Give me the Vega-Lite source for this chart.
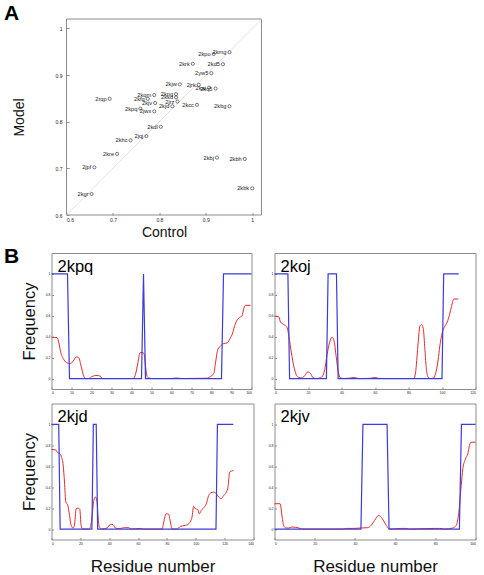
{
  "$schema": "https://vega.github.io/schema/vega-lite/v6.json",
  "padding": {"left": 3.5, "top": 2, "right": 0, "bottom": 0},
  "background": "white",
  "config": {
    "font": "Liberation Sans",
    "view": {"stroke": "#8c8c8c", "strokeWidth": 1},
    "axis": {"grid": false, "domain": false, "tickColor": "#8c8c8c", "labelColor": "#222", "titleColor": "#111", "titleFontWeight": "normal", "titleFont": "Liberation Sans", "labelFont": "Liberation Sans"},
    "title": {"font": "Liberation Sans", "color": "#000"}
  },
  "datasets": {
    "scatter": [
      {"id": "2kmg", "control": 0.951, "model": 0.949},
      {"id": "2kpo", "control": 0.917, "model": 0.945},
      {"id": "2krk", "control": 0.872, "model": 0.924},
      {"id": "2kd5", "control": 0.937, "model": 0.923},
      {"id": "2yw5", "control": 0.912, "model": 0.904},
      {"id": "2kjw", "control": 0.844, "model": 0.88},
      {"id": "2jrk", "control": 0.885, "model": 0.879},
      {"id": "2kai", "control": 0.907, "model": 0.873},
      {"id": "2kq5", "control": 0.921, "model": 0.871},
      {"id": "2rqp", "control": 0.693, "model": 0.849},
      {"id": "2kqm", "control": 0.789, "model": 0.857},
      {"id": "2kfq", "control": 0.775, "model": 0.849},
      {"id": "2kjv", "control": 0.791, "model": 0.84},
      {"id": "2kpq", "control": 0.759, "model": 0.828},
      {"id": "2jwx", "control": 0.789, "model": 0.822},
      {"id": "2kpg", "control": 0.836, "model": 0.859},
      {"id": "2ksd", "control": 0.836, "model": 0.852},
      {"id": "2jrz", "control": 0.839, "model": 0.843},
      {"id": "2kjd", "control": 0.828, "model": 0.833},
      {"id": "2kcc", "control": 0.881, "model": 0.836},
      {"id": "2kbg", "control": 0.951, "model": 0.833},
      {"id": "2kdl", "control": 0.803, "model": 0.789},
      {"id": "2jqj", "control": 0.772, "model": 0.769},
      {"id": "2khc", "control": 0.738, "model": 0.76},
      {"id": "2kre", "control": 0.709, "model": 0.731},
      {"id": "2jpf", "control": 0.66, "model": 0.702},
      {"id": "2kgr", "control": 0.654, "model": 0.645},
      {"id": "2kbj", "control": 0.924, "model": 0.723},
      {"id": "2kbh", "control": 0.984, "model": 0.72},
      {"id": "2kbk", "control": 1.0, "model": 0.657}
    ],
    "diag": [
      {"control": 0.6, "model": 0.6},
      {"control": 1.02, "model": 1.02}
    ],
    "profiles": [
      {"protein": "2kpq", "series": "native", "residue": 0, "freq": 1},
      {"protein": "2kpq", "series": "native", "residue": 8, "freq": 1},
      {"protein": "2kpq", "series": "native", "residue": 9, "freq": 0},
      {"protein": "2kpq", "series": "native", "residue": 45, "freq": 0},
      {"protein": "2kpq", "series": "native", "residue": 46, "freq": 1},
      {"protein": "2kpq", "series": "native", "residue": 47, "freq": 0},
      {"protein": "2kpq", "series": "native", "residue": 85, "freq": 0},
      {"protein": "2kpq", "series": "native", "residue": 86, "freq": 1},
      {"protein": "2kpq", "series": "native", "residue": 100, "freq": 1},

      {"protein": "2kpq", "series": "model", "residue": 0, "freq": 0.395},
      {"protein": "2kpq", "series": "model", "residue": 2.8, "freq": 0.39},
      {"protein": "2kpq", "series": "model", "residue": 3.7, "freq": 0.34},
      {"protein": "2kpq", "series": "model", "residue": 4.5, "freq": 0.26},
      {"protein": "2kpq", "series": "model", "residue": 6.2, "freq": 0.18},
      {"protein": "2kpq", "series": "model", "residue": 7.8, "freq": 0.15},
      {"protein": "2kpq", "series": "model", "residue": 9.5, "freq": 0.143},
      {"protein": "2kpq", "series": "model", "residue": 10.8, "freq": 0.166},
      {"protein": "2kpq", "series": "model", "residue": 12.5, "freq": 0.207},
      {"protein": "2kpq", "series": "model", "residue": 13.7, "freq": 0.197},
      {"protein": "2kpq", "series": "model", "residue": 14.8, "freq": 0.118},
      {"protein": "2kpq", "series": "model", "residue": 16.2, "freq": 0.02},
      {"protein": "2kpq", "series": "model", "residue": 17, "freq": 0},
      {"protein": "2kpq", "series": "model", "residue": 18.7, "freq": 0},
      {"protein": "2kpq", "series": "model", "residue": 20.3, "freq": 0.02},
      {"protein": "2kpq", "series": "model", "residue": 22.8, "freq": 0.03},
      {"protein": "2kpq", "series": "model", "residue": 24.5, "freq": 0.02},
      {"protein": "2kpq", "series": "model", "residue": 25.3, "freq": 0},
      {"protein": "2kpq", "series": "model", "residue": 41, "freq": 0},
      {"protein": "2kpq", "series": "model", "residue": 42, "freq": 0.04},
      {"protein": "2kpq", "series": "model", "residue": 43.2, "freq": 0.15},
      {"protein": "2kpq", "series": "model", "residue": 44.2, "freq": 0.245},
      {"protein": "2kpq", "series": "model", "residue": 45.3, "freq": 0.25},
      {"protein": "2kpq", "series": "model", "residue": 46.2, "freq": 0.24},
      {"protein": "2kpq", "series": "model", "residue": 47.2, "freq": 0.09},
      {"protein": "2kpq", "series": "model", "residue": 47.8, "freq": 0.02},
      {"protein": "2kpq", "series": "model", "residue": 48.7, "freq": 0.005},
      {"protein": "2kpq", "series": "model", "residue": 50.3, "freq": 0},
      {"protein": "2kpq", "series": "model", "residue": 60, "freq": 0},
      {"protein": "2kpq", "series": "model", "residue": 62.5, "freq": 0.005},
      {"protein": "2kpq", "series": "model", "residue": 65, "freq": 0},
      {"protein": "2kpq", "series": "model", "residue": 77.8, "freq": 0.003},
      {"protein": "2kpq", "series": "model", "residue": 79.5, "freq": 0.02},
      {"protein": "2kpq", "series": "model", "residue": 81.2, "freq": 0.05},
      {"protein": "2kpq", "series": "model", "residue": 82, "freq": 0.15},
      {"protein": "2kpq", "series": "model", "residue": 83.2, "freq": 0.28},
      {"protein": "2kpq", "series": "model", "residue": 84.5, "freq": 0.31},
      {"protein": "2kpq", "series": "model", "residue": 86.2, "freq": 0.335},
      {"protein": "2kpq", "series": "model", "residue": 87.8, "freq": 0.34},
      {"protein": "2kpq", "series": "model", "residue": 89.5, "freq": 0.39},
      {"protein": "2kpq", "series": "model", "residue": 90.3, "freq": 0.42},
      {"protein": "2kpq", "series": "model", "residue": 91.2, "freq": 0.48},
      {"protein": "2kpq", "series": "model", "residue": 92.5, "freq": 0.55},
      {"protein": "2kpq", "series": "model", "residue": 94.2, "freq": 0.585},
      {"protein": "2kpq", "series": "model", "residue": 95.3, "freq": 0.6},
      {"protein": "2kpq", "series": "model", "residue": 96.2, "freq": 0.675},
      {"protein": "2kpq", "series": "model", "residue": 97, "freq": 0.7},
      {"protein": "2kpq", "series": "model", "residue": 99.5, "freq": 0.7},

      {"protein": "2koj", "series": "native", "residue": 0, "freq": 1},
      {"protein": "2koj", "series": "native", "residue": 8, "freq": 1},
      {"protein": "2koj", "series": "native", "residue": 9, "freq": 0},
      {"protein": "2koj", "series": "native", "residue": 31, "freq": 0},
      {"protein": "2koj", "series": "native", "residue": 32, "freq": 1},
      {"protein": "2koj", "series": "native", "residue": 37, "freq": 1},
      {"protein": "2koj", "series": "native", "residue": 38, "freq": 0},
      {"protein": "2koj", "series": "native", "residue": 100, "freq": 0},
      {"protein": "2koj", "series": "native", "residue": 101, "freq": 1},
      {"protein": "2koj", "series": "native", "residue": 110, "freq": 1},

      {"protein": "2koj", "series": "model", "residue": 0, "freq": 0.596},
      {"protein": "2koj", "series": "model", "residue": 2.6, "freq": 0.59},
      {"protein": "2koj", "series": "model", "residue": 3.6, "freq": 0.54},
      {"protein": "2koj", "series": "model", "residue": 5.6, "freq": 0.516},
      {"protein": "2koj", "series": "model", "residue": 7.6, "freq": 0.484},
      {"protein": "2koj", "series": "model", "residue": 8.6, "freq": 0.4},
      {"protein": "2koj", "series": "model", "residue": 10.1, "freq": 0.245},
      {"protein": "2koj", "series": "model", "residue": 11.5, "freq": 0.118},
      {"protein": "2koj", "series": "model", "residue": 12.9, "freq": 0.04},
      {"protein": "2koj", "series": "model", "residue": 14.5, "freq": 0.01},
      {"protein": "2koj", "series": "model", "residue": 16.5, "freq": 0.006},
      {"protein": "2koj", "series": "model", "residue": 18.1, "freq": 0.03},
      {"protein": "2koj", "series": "model", "residue": 19.9, "freq": 0.064},
      {"protein": "2koj", "series": "model", "residue": 21.5, "freq": 0.048},
      {"protein": "2koj", "series": "model", "residue": 22.9, "freq": 0.01},
      {"protein": "2koj", "series": "model", "residue": 24.5, "freq": 0},
      {"protein": "2koj", "series": "model", "residue": 27, "freq": 0.005},
      {"protein": "2koj", "series": "model", "residue": 28.5, "freq": 0.02},
      {"protein": "2koj", "series": "model", "residue": 30, "freq": 0.086},
      {"protein": "2koj", "series": "model", "residue": 31.4, "freq": 0.23},
      {"protein": "2koj", "series": "model", "residue": 32.8, "freq": 0.34},
      {"protein": "2koj", "series": "model", "residue": 34.4, "freq": 0.395},
      {"protein": "2koj", "series": "model", "residue": 35.6, "freq": 0.357},
      {"protein": "2koj", "series": "model", "residue": 36.8, "freq": 0.213},
      {"protein": "2koj", "series": "model", "residue": 38, "freq": 0.07},
      {"protein": "2koj", "series": "model", "residue": 39.4, "freq": 0.006},
      {"protein": "2koj", "series": "model", "residue": 41.4, "freq": 0},
      {"protein": "2koj", "series": "model", "residue": 44.5, "freq": 0.003},
      {"protein": "2koj", "series": "model", "residue": 47.4, "freq": 0.01},
      {"protein": "2koj", "series": "model", "residue": 50.3, "freq": 0},
      {"protein": "2koj", "series": "model", "residue": 57, "freq": 0.002},
      {"protein": "2koj", "series": "model", "residue": 60.3, "freq": 0.01},
      {"protein": "2koj", "series": "model", "residue": 62.3, "freq": 0},
      {"protein": "2koj", "series": "model", "residue": 83.2, "freq": 0},
      {"protein": "2koj", "series": "model", "residue": 84.2, "freq": 0.054},
      {"protein": "2koj", "series": "model", "residue": 85.6, "freq": 0.31},
      {"protein": "2koj", "series": "model", "residue": 86.8, "freq": 0.5},
      {"protein": "2koj", "series": "model", "residue": 87.8, "freq": 0.516},
      {"protein": "2koj", "series": "model", "residue": 88.8, "freq": 0.48},
      {"protein": "2koj", "series": "model", "residue": 89.8, "freq": 0.277},
      {"protein": "2koj", "series": "model", "residue": 90.7, "freq": 0.086},
      {"protein": "2koj", "series": "model", "residue": 91.7, "freq": 0.016},
      {"protein": "2koj", "series": "model", "residue": 93.1, "freq": 0},
      {"protein": "2koj", "series": "model", "residue": 95.1, "freq": 0.006},
      {"protein": "2koj", "series": "model", "residue": 96.5, "freq": 0.07},
      {"protein": "2koj", "series": "model", "residue": 97.7, "freq": 0.18},
      {"protein": "2koj", "series": "model", "residue": 98.7, "freq": 0.31},
      {"protein": "2koj", "series": "model", "residue": 100.1, "freq": 0.436},
      {"protein": "2koj", "series": "model", "residue": 101.7, "freq": 0.5},
      {"protein": "2koj", "series": "model", "residue": 103.1, "freq": 0.54},
      {"protein": "2koj", "series": "model", "residue": 104.5, "freq": 0.61},
      {"protein": "2koj", "series": "model", "residue": 105.7, "freq": 0.69},
      {"protein": "2koj", "series": "model", "residue": 107.1, "freq": 0.76},
      {"protein": "2koj", "series": "model", "residue": 109.7, "freq": 0.76},

      {"protein": "2kjd", "series": "native", "residue": 0, "freq": 1},
      {"protein": "2kjd", "series": "native", "residue": 5, "freq": 1},
      {"protein": "2kjd", "series": "native", "residue": 6, "freq": 0},
      {"protein": "2kjd", "series": "native", "residue": 28, "freq": 0},
      {"protein": "2kjd", "series": "native", "residue": 29, "freq": 1},
      {"protein": "2kjd", "series": "native", "residue": 31, "freq": 1},
      {"protein": "2kjd", "series": "native", "residue": 32, "freq": 0},
      {"protein": "2kjd", "series": "native", "residue": 114, "freq": 0},
      {"protein": "2kjd", "series": "native", "residue": 115, "freq": 1},
      {"protein": "2kjd", "series": "native", "residue": 126, "freq": 1},

      {"protein": "2kjd", "series": "model", "residue": 0, "freq": 0.76},
      {"protein": "2kjd", "series": "model", "residue": 2.8, "freq": 0.758},
      {"protein": "2kjd", "series": "model", "residue": 3.9, "freq": 0.735},
      {"protein": "2kjd", "series": "model", "residue": 5.8, "freq": 0.72},
      {"protein": "2kjd", "series": "model", "residue": 6.9, "freq": 0.69},
      {"protein": "2kjd", "series": "model", "residue": 8.1, "freq": 0.61},
      {"protein": "2kjd", "series": "model", "residue": 9, "freq": 0.45},
      {"protein": "2kjd", "series": "model", "residue": 9.9, "freq": 0.26},
      {"protein": "2kjd", "series": "model", "residue": 11.3, "freq": 0.226},
      {"protein": "2kjd", "series": "model", "residue": 12.5, "freq": 0.13},
      {"protein": "2kjd", "series": "model", "residue": 13.6, "freq": 0.035},
      {"protein": "2kjd", "series": "model", "residue": 15, "freq": 0.01},
      {"protein": "2kjd", "series": "model", "residue": 15.9, "freq": 0.035},
      {"protein": "2kjd", "series": "model", "residue": 17.1, "freq": 0.194},
      {"protein": "2kjd", "series": "model", "residue": 18.5, "freq": 0.2},
      {"protein": "2kjd", "series": "model", "residue": 19.6, "freq": 0.188},
      {"protein": "2kjd", "series": "model", "residue": 20.5, "freq": 0.035},
      {"protein": "2kjd", "series": "model", "residue": 21.7, "freq": 0},
      {"protein": "2kjd", "series": "model", "residue": 25.8, "freq": 0},
      {"protein": "2kjd", "series": "model", "residue": 27, "freq": 0.02},
      {"protein": "2kjd", "series": "model", "residue": 28.2, "freq": 0.13},
      {"protein": "2kjd", "series": "model", "residue": 29.3, "freq": 0.274},
      {"protein": "2kjd", "series": "model", "residue": 30.5, "freq": 0.306},
      {"protein": "2kjd", "series": "model", "residue": 31.6, "freq": 0.258},
      {"protein": "2kjd", "series": "model", "residue": 32.3, "freq": 0.115},
      {"protein": "2kjd", "series": "model", "residue": 33.2, "freq": 0.02},
      {"protein": "2kjd", "series": "model", "residue": 34.6, "freq": 0},
      {"protein": "2kjd", "series": "model", "residue": 38.5, "freq": 0.01},
      {"protein": "2kjd", "series": "model", "residue": 40.8, "freq": 0.045},
      {"protein": "2kjd", "series": "model", "residue": 42.7, "freq": 0.041},
      {"protein": "2kjd", "series": "model", "residue": 44.3, "freq": 0.01},
      {"protein": "2kjd", "series": "model", "residue": 46.6, "freq": 0.003},
      {"protein": "2kjd", "series": "model", "residue": 50.5, "freq": 0.013},
      {"protein": "2kjd", "series": "model", "residue": 53.5, "freq": 0.013},
      {"protein": "2kjd", "series": "model", "residue": 55.2, "freq": 0},
      {"protein": "2kjd", "series": "model", "residue": 61.6, "freq": 0.006},
      {"protein": "2kjd", "series": "model", "residue": 63.9, "freq": 0},
      {"protein": "2kjd", "series": "model", "residue": 76.6, "freq": 0},
      {"protein": "2kjd", "series": "model", "residue": 77.8, "freq": 0.067},
      {"protein": "2kjd", "series": "model", "residue": 79.4, "freq": 0.146},
      {"protein": "2kjd", "series": "model", "residue": 81.2, "freq": 0.14},
      {"protein": "2kjd", "series": "model", "residue": 82.4, "freq": 0.067},
      {"protein": "2kjd", "series": "model", "residue": 83.5, "freq": 0},
      {"protein": "2kjd", "series": "model", "residue": 87, "freq": 0},
      {"protein": "2kjd", "series": "model", "residue": 89.3, "freq": 0.025},
      {"protein": "2kjd", "series": "model", "residue": 92.8, "freq": 0.035},
      {"protein": "2kjd", "series": "model", "residue": 95.1, "freq": 0.05},
      {"protein": "2kjd", "series": "model", "residue": 97.4, "freq": 0.115},
      {"protein": "2kjd", "series": "model", "residue": 98.5, "freq": 0.217},
      {"protein": "2kjd", "series": "model", "residue": 99.7, "freq": 0.194},
      {"protein": "2kjd", "series": "model", "residue": 101.3, "freq": 0.188},
      {"protein": "2kjd", "series": "model", "residue": 102.5, "freq": 0.146},
      {"protein": "2kjd", "series": "model", "residue": 103.8, "freq": 0.178},
      {"protein": "2kjd", "series": "model", "residue": 105.9, "freq": 0.21},
      {"protein": "2kjd", "series": "model", "residue": 107.3, "freq": 0.242},
      {"protein": "2kjd", "series": "model", "residue": 108.9, "freq": 0.32},
      {"protein": "2kjd", "series": "model", "residue": 110.5, "freq": 0.347},
      {"protein": "2kjd", "series": "model", "residue": 112.4, "freq": 0.353},
      {"protein": "2kjd", "series": "model", "residue": 114.2, "freq": 0.338},
      {"protein": "2kjd", "series": "model", "residue": 115.9, "freq": 0.306},
      {"protein": "2kjd", "series": "model", "residue": 117.5, "freq": 0.29},
      {"protein": "2kjd", "series": "model", "residue": 119.3, "freq": 0.32},
      {"protein": "2kjd", "series": "model", "residue": 121.2, "freq": 0.353},
      {"protein": "2kjd", "series": "model", "residue": 122.3, "freq": 0.4},
      {"protein": "2kjd", "series": "model", "residue": 123.5, "freq": 0.545},
      {"protein": "2kjd", "series": "model", "residue": 126.2, "freq": 0.56},

      {"protein": "2kjv", "series": "native", "residue": 0, "freq": 0},
      {"protein": "2kjv", "series": "native", "residue": 43, "freq": 0},
      {"protein": "2kjv", "series": "native", "residue": 44, "freq": 1},
      {"protein": "2kjv", "series": "native", "residue": 56, "freq": 1},
      {"protein": "2kjv", "series": "native", "residue": 57, "freq": 0},
      {"protein": "2kjv", "series": "native", "residue": 92, "freq": 0},
      {"protein": "2kjv", "series": "native", "residue": 93, "freq": 1},
      {"protein": "2kjv", "series": "native", "residue": 100, "freq": 1},

      {"protein": "2kjv", "series": "model", "residue": 0, "freq": 0.242},
      {"protein": "2kjv", "series": "model", "residue": 2.8, "freq": 0.242},
      {"protein": "2kjv", "series": "model", "residue": 3.8, "freq": 0.115},
      {"protein": "2kjv", "series": "model", "residue": 4.6, "freq": 0.03},
      {"protein": "2kjv", "series": "model", "residue": 5.8, "freq": 0.01},
      {"protein": "2kjv", "series": "model", "residue": 7.1, "freq": 0.01},
      {"protein": "2kjv", "series": "model", "residue": 8.8, "freq": 0.02},
      {"protein": "2kjv", "series": "model", "residue": 10.4, "freq": 0.016},
      {"protein": "2kjv", "series": "model", "residue": 12.1, "freq": 0.01},
      {"protein": "2kjv", "series": "model", "residue": 13.3, "freq": 0},
      {"protein": "2kjv", "series": "model", "residue": 34, "freq": 0},
      {"protein": "2kjv", "series": "model", "residue": 35.7, "freq": 0.006},
      {"protein": "2kjv", "series": "model", "residue": 39, "freq": 0.006},
      {"protein": "2kjv", "series": "model", "residue": 43.1, "freq": 0.01},
      {"protein": "2kjv", "series": "model", "residue": 46.4, "freq": 0.013},
      {"protein": "2kjv", "series": "model", "residue": 48.1, "freq": 0.035},
      {"protein": "2kjv", "series": "model", "residue": 49.8, "freq": 0.083},
      {"protein": "2kjv", "series": "model", "residue": 51.9, "freq": 0.13},
      {"protein": "2kjv", "series": "model", "residue": 53.6, "freq": 0.1},
      {"protein": "2kjv", "series": "model", "residue": 55.6, "freq": 0.035},
      {"protein": "2kjv", "series": "model", "residue": 57.2, "freq": 0},
      {"protein": "2kjv", "series": "model", "residue": 63, "freq": 0.006},
      {"protein": "2kjv", "series": "model", "residue": 65.5, "freq": 0.006},
      {"protein": "2kjv", "series": "model", "residue": 67.2, "freq": 0},
      {"protein": "2kjv", "series": "model", "residue": 79.6, "freq": 0.006},
      {"protein": "2kjv", "series": "model", "residue": 82.1, "freq": 0.006},
      {"protein": "2kjv", "series": "model", "residue": 84.6, "freq": 0},
      {"protein": "2kjv", "series": "model", "residue": 88.7, "freq": 0.01},
      {"protein": "2kjv", "series": "model", "residue": 90.4, "freq": 0.035},
      {"protein": "2kjv", "series": "model", "residue": 91.7, "freq": 0.16},
      {"protein": "2kjv", "series": "model", "residue": 92.9, "freq": 0.417},
      {"protein": "2kjv", "series": "model", "residue": 93.7, "freq": 0.576},
      {"protein": "2kjv", "series": "model", "residue": 95, "freq": 0.67},
      {"protein": "2kjv", "series": "model", "residue": 96.2, "freq": 0.72},
      {"protein": "2kjv", "series": "model", "residue": 97, "freq": 0.8},
      {"protein": "2kjv", "series": "model", "residue": 97.8, "freq": 0.83},
      {"protein": "2kjv", "series": "model", "residue": 100, "freq": 0.83}
    ]
  },
  "spacing": 5,
  "vconcat": [
    {
      "width": 210,
      "height": 196,
      "view": {"stroke": null},
      "title": {"text": "A", "anchor": "start", "frame": "group", "dx": -47.5, "offset": -23, "baseline": "alphabetic", "fontSize": 21, "fontWeight": "bold"},
      "layer": [
        {
          "data": {"values": [{}]},
          "mark": {"type": "rect", "filled": false, "stroke": "#8c8c8c", "strokeWidth": 1},
          "encoding": {
            "x": {"datum": 0.6, "type": "quantitative", "scale": {"domain": [0.6, 1.02], "range": [15, 210], "nice": false, "zero": false},
              "axis": {"title": "Control", "values": [0.6, 0.65, 0.7, 0.75, 0.8, 0.85, 0.9, 0.95, 1], "format": "~g", "labelFontSize": 5, "labelPadding": 4.5, "tickSize": -2.5, "titleFontSize": 14, "titlePadding": 3.5}},
            "x2": {"datum": 1.02},
            "y": {"datum": 0.6, "type": "quantitative", "scale": {"domain": [0.6, 1.02], "nice": false, "zero": false},
              "axis": {"title": "Model", "offset": -15, "values": [0.6, 0.65, 0.7, 0.75, 0.8, 0.85, 0.9, 0.95, 1], "format": "~g", "labelFontSize": 5, "labelPadding": 7, "tickSize": -2.5, "titleFontSize": 14, "titlePadding": 29}},
            "y2": {"datum": 1.02}
          }
        },
        {
          "data": {"name": "diag"},
          "mark": {"type": "line", "color": "#d6d6d6", "strokeWidth": 0.7},
          "encoding": {
            "x": {"field": "control", "type": "quantitative"},
            "y": {"field": "model", "type": "quantitative"}
          }
        },
        {
          "data": {"name": "scatter"},
          "mark": {"type": "point", "shape": "circle", "filled": false, "size": 10, "stroke": "#222", "strokeWidth": 0.6, "opacity": 1},
          "encoding": {
            "x": {"field": "control", "type": "quantitative"},
            "y": {"field": "model", "type": "quantitative"}
          }
        },
        {
          "data": {"name": "scatter"},
          "mark": {"type": "text", "align": "right", "baseline": "middle", "dx": -3, "fontSize": 5.7, "color": "#222"},
          "encoding": {
            "x": {"field": "control", "type": "quantitative"},
            "y": {"field": "model", "type": "quantitative"},
            "text": {"field": "id"}
          }
        }
      ]
    },
    {
      "title": {"text": "B", "anchor": "start", "frame": "group", "dx": -47.5, "offset": -31, "baseline": "alphabetic", "fontSize": 21, "fontWeight": "bold"},
      "spacing": 7.5,
      "vconcat": [
        {
          "spacing": 13,
          "hconcat": [
            {
              "width": 200, "height": 136,
              "title": {"text": "2kpq", "anchor": "start", "frame": "group", "dx": 6, "offset": -35, "baseline": "alphabetic", "fontSize": 16.5, "fontWeight": "normal"},
              "data": {"name": "profiles"},
              "transform": [{"filter": "datum.protein === '2kpq'"}],
              "encoding": {
                "x": {"field": "residue", "type": "quantitative", "scale": {"domain": [0, 100], "nice": false},
                  "axis": {"title": null, "values": [0,10,20,30,40,50,60,70,80,90,100], "labelFontSize": 3.5, "labelPadding": 3.5, "tickSize": -2}},
                "y": {"field": "freq", "type": "quantitative", "scale": {"domain": [-0.1, 1.2], "nice": false, "zero": false},
                  "axis": {"title": "Frequency", "values": [0,0.2,0.4,0.6,0.8,1], "format": "~g", "labelFontSize": 3.5, "labelPadding": 3.5, "tickSize": -2, "titleFontSize": 16.5, "titlePadding": 8}}
              },
              "layer": [
                {"transform": [{"filter": "datum.series === 'model'"}], "mark": {"type": "line", "color": "#e12b2b", "strokeWidth": 1, "interpolate": "monotone"}},
                {"transform": [{"filter": "datum.series === 'native'"}], "mark": {"type": "line", "color": "#3b3bd9", "strokeWidth": 1.2}}
              ]
            },
            {
              "width": 201, "height": 136,
              "title": {"text": "2koj", "anchor": "start", "frame": "group", "dx": 6, "offset": -35, "baseline": "alphabetic", "fontSize": 16.5, "fontWeight": "normal"},
              "data": {"name": "profiles"},
              "transform": [{"filter": "datum.protein === '2koj'"}],
              "encoding": {
                "x": {"field": "residue", "type": "quantitative", "scale": {"domain": [0, 120], "nice": false},
                  "axis": {"title": null, "values": [0,20,40,60,80,100,120], "labelFontSize": 3.5, "labelPadding": 3.5, "tickSize": -2}},
                "y": {"field": "freq", "type": "quantitative", "scale": {"domain": [-0.1, 1.2], "nice": false, "zero": false},
                  "axis": {"title": null, "values": [0,0.2,0.4,0.6,0.8,1], "format": "~g", "labelFontSize": 3.5, "labelPadding": 3.5, "tickSize": -2}}
              },
              "layer": [
                {"transform": [{"filter": "datum.series === 'model'"}], "mark": {"type": "line", "color": "#e12b2b", "strokeWidth": 1, "interpolate": "monotone"}},
                {"transform": [{"filter": "datum.series === 'native'"}], "mark": {"type": "line", "color": "#3b3bd9", "strokeWidth": 1.2}}
              ]
            }
          ]
        },
        {
          "spacing": 13,
          "hconcat": [
            {
              "width": 202, "height": 136,
              "title": {"text": "2kjd", "anchor": "start", "frame": "group", "dx": 6, "offset": -35, "baseline": "alphabetic", "fontSize": 16.5, "fontWeight": "normal"},
              "data": {"name": "profiles"},
              "transform": [{"filter": "datum.protein === '2kjd'"}],
              "encoding": {
                "x": {"field": "residue", "type": "quantitative", "scale": {"domain": [0, 140], "nice": false},
                  "axis": {"title": "Residue number", "values": [0,20,40,60,80,100,120,140], "labelFontSize": 3.5, "labelPadding": 3.5, "tickSize": -2, "titleFontSize": 17, "titlePadding": 14}},
                "y": {"field": "freq", "type": "quantitative", "scale": {"domain": [-0.1, 1.2], "nice": false, "zero": false},
                  "axis": {"title": "Frequency", "values": [0,0.2,0.4,0.6,0.8,1], "format": "~g", "labelFontSize": 3.5, "labelPadding": 3.5, "tickSize": -2, "titleFontSize": 16.5, "titlePadding": 8}}
              },
              "layer": [
                {"transform": [{"filter": "datum.series === 'model'"}], "mark": {"type": "line", "color": "#e12b2b", "strokeWidth": 1, "interpolate": "monotone"}},
                {"transform": [{"filter": "datum.series === 'native'"}], "mark": {"type": "line", "color": "#3b3bd9", "strokeWidth": 1.2}}
              ]
            },
            {
              "width": 201, "height": 136,
              "title": {"text": "2kjv", "anchor": "start", "frame": "group", "dx": 6, "offset": -35, "baseline": "alphabetic", "fontSize": 16.5, "fontWeight": "normal"},
              "data": {"name": "profiles"},
              "transform": [{"filter": "datum.protein === '2kjv'"}],
              "encoding": {
                "x": {"field": "residue", "type": "quantitative", "scale": {"domain": [0, 100], "nice": false},
                  "axis": {"title": "Residue number", "values": [0,20,40,60,80,100], "labelFontSize": 3.5, "labelPadding": 3.5, "tickSize": -2, "titleFontSize": 17, "titlePadding": 14}},
                "y": {"field": "freq", "type": "quantitative", "scale": {"domain": [-0.1, 1.2], "nice": false, "zero": false},
                  "axis": {"title": null, "values": [0,0.2,0.4,0.6,0.8,1], "format": "~g", "labelFontSize": 3.5, "labelPadding": 3.5, "tickSize": -2}}
              },
              "layer": [
                {"transform": [{"filter": "datum.series === 'model'"}], "mark": {"type": "line", "color": "#e12b2b", "strokeWidth": 1, "interpolate": "monotone"}},
                {"transform": [{"filter": "datum.series === 'native'"}], "mark": {"type": "line", "color": "#3b3bd9", "strokeWidth": 1.2}}
              ]
            }
          ]
        }
      ]
    }
  ]
}
